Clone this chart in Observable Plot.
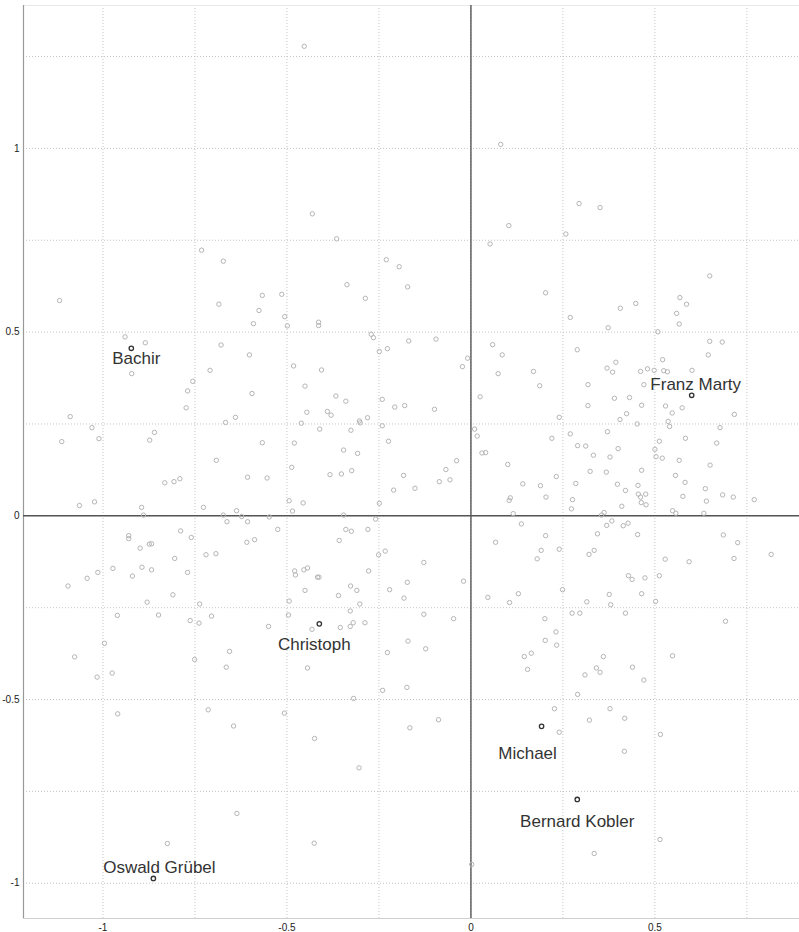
<!DOCTYPE html>
<html><head><meta charset="utf-8">
<script src="https://cdn.jsdelivr.net/npm/d3@7"></script>
<script src="https://cdn.jsdelivr.net/npm/@observablehq/plot@0.6"></script>
<style>body{margin:0;background:#fff}</style>
</head><body><div id="chart"></div>
<script>
// individual coordinates (dimension 1, dimension 2)
const individuals = [
[-0.453,1.278],[0.081,1.011],[-0.431,0.822],[-0.365,0.754],[0.103,0.790],
[0.294,0.850],[0.351,0.839],[0.258,0.767],
[-0.732,0.723],[-0.673,0.693],[-1.118,0.586],[-0.685,0.576],[-0.567,0.600],[-0.576,0.559],[-0.591,0.523],
[-0.940,0.487],[-0.885,0.471],[-0.679,0.465],[-0.602,0.438],[-0.922,0.387],[-0.709,0.396],[-0.756,0.366],
[-0.770,0.340],[-0.595,0.333],[-0.774,0.294],[-1.089,0.270],[-0.640,0.268],[-0.667,0.254],[-1.030,0.240],
[-1.011,0.210],[-1.112,0.202],[-0.860,0.227],[-0.873,0.206],[-0.567,0.199],[-0.692,0.151],
[0.052,0.740],[-0.230,0.697],[-0.195,0.678],[-0.172,0.623],[-0.337,0.629],[-0.514,0.603],[-0.287,0.592],
[-0.506,0.542],[-0.499,0.517],[-0.414,0.527],[-0.414,0.518],[-0.271,0.494],[-0.265,0.485],[-0.169,0.476],
[-0.095,0.481],[-0.227,0.455],[-0.249,0.447],[0.059,0.466],[0.085,0.438],[-0.009,0.429],[-0.023,0.406],
[-0.482,0.408],[-0.406,0.397],[0.074,0.387],[0.170,0.393],[-0.451,0.353],[0.025,0.324],[-0.367,0.326],
[-0.340,0.312],[-0.241,0.317],[-0.207,0.296],[-0.180,0.300],[-0.099,0.290],[-0.446,0.282],[-0.390,0.284],
[-0.380,0.274],[-0.281,0.267],[-0.303,0.258],[-0.301,0.253],[-0.461,0.252],[-0.411,0.236],[-0.326,0.233],
[-0.241,0.245],[-0.224,0.203],[-0.480,0.198],[0.010,0.236],[0.017,0.217],[0.030,0.171],[0.040,0.172],
[-0.346,0.179],[-0.308,0.170],[-0.039,0.150],[-0.068,0.126],[0.100,0.140],[-0.487,0.132],[-0.324,0.123],
[0.649,0.653],[0.203,0.607],[0.568,0.594],[0.586,0.576],[0.406,0.565],[0.448,0.578],[0.270,0.540],
[0.559,0.551],[0.566,0.522],[0.373,0.512],[0.508,0.501],[0.649,0.475],[0.683,0.473],[0.289,0.452],
[0.645,0.438],[0.394,0.418],[0.521,0.425],[0.370,0.402],[0.385,0.391],[0.461,0.393],[0.480,0.400],
[0.498,0.396],[0.524,0.395],[0.534,0.392],[0.601,0.396],[0.187,0.354],[0.318,0.357],[0.470,0.357],
[0.390,0.320],[0.431,0.322],[0.318,0.300],[0.464,0.301],[0.529,0.299],[0.574,0.294],[0.547,0.280],
[0.716,0.276],[0.423,0.278],[0.405,0.262],[0.240,0.268],[0.536,0.257],[0.540,0.243],[0.452,0.250],
[0.677,0.240],[0.220,0.211],[0.270,0.223],[0.371,0.229],[0.583,0.211],[0.512,0.203],[0.668,0.198],
[0.290,0.191],[0.312,0.190],[0.400,0.183],[0.500,0.181],[0.333,0.165],[0.378,0.160],[0.503,0.161],
[0.520,0.157],[0.566,0.151],[0.650,0.138],[0.324,0.121],[0.368,0.119],[0.464,0.124],
[-0.832,0.090],[-0.807,0.093],[-0.791,0.101],[-0.607,0.105],[-0.554,0.103],[-1.064,0.028],[-1.023,0.038],
[-0.895,0.023],[-0.890,0.002],[-0.727,0.023],[-0.673,0.002],[-0.637,0.014],[-0.663,-0.016],[-0.623,-0.002],
[-0.607,-0.016],[-0.548,-0.003],[-0.930,-0.054],[-0.930,-0.062],[-0.789,-0.041],[-0.760,-0.059],
[-0.899,-0.088],[-0.874,-0.077],[-0.868,-0.076],[-0.609,-0.072],[-0.588,-0.065],[-0.805,-0.116],
[-0.720,-0.106],[-0.693,-0.103],[-0.973,-0.143],[-1.014,-0.154],[-1.043,-0.170],[-1.095,-0.191],
[-0.894,-0.140],[-0.868,-0.147],[-0.920,-0.164],[-0.770,-0.154],[-0.810,-0.215],[-0.880,-0.235],
[-0.737,-0.240],[-0.961,-0.271],[-0.849,-0.270],[-0.705,-0.273],[-0.763,-0.285],[-0.739,-0.292],
[-0.550,-0.301],[-0.996,-0.347],[-1.077,-0.384],[-0.656,-0.369],[-0.751,-0.391],[-0.665,-0.412],
[-1.016,-0.439],[-0.975,-0.428],[-0.714,-0.528],
[-0.383,0.112],[-0.352,0.114],[-0.183,0.110],[-0.210,0.070],[-0.152,0.075],[-0.086,0.093],[-0.057,0.098],
[-0.494,0.041],[-0.456,0.035],[-0.485,0.013],[-0.249,0.034],[-0.346,0.002],[-0.259,-0.009],[-0.525,-0.037],
[-0.340,-0.037],[-0.325,-0.042],[-0.280,-0.037],[-0.358,-0.067],[-0.251,-0.106],[-0.233,-0.096],
[-0.128,-0.127],[-0.479,-0.150],[-0.477,-0.161],[-0.454,-0.147],[-0.444,-0.142],[-0.417,-0.167],
[-0.413,-0.167],[-0.278,-0.150],[-0.020,-0.178],[-0.173,-0.181],[-0.221,-0.201],[-0.451,-0.203],
[-0.327,-0.191],[-0.310,-0.203],[-0.360,-0.217],[-0.182,-0.224],[-0.302,-0.240],[-0.494,-0.232],
[-0.328,-0.259],[-0.496,-0.270],[-0.128,-0.268],[-0.047,-0.280],[-0.432,-0.309],[-0.355,-0.304],
[-0.328,-0.301],[-0.320,-0.291],[-0.288,-0.291],[-0.171,-0.341],[-0.123,-0.362],[-0.227,-0.372],
[-0.444,-0.414],[-0.240,-0.475],[-0.174,-0.467],[-0.319,-0.497],
[0.141,0.087],[0.107,0.049],[0.104,0.042],[0.115,0.006],[0.137,-0.022],[0.067,-0.072],[0.046,-0.222],
[0.105,-0.236],[0.129,-0.212],[0.145,-0.383],[0.164,-0.374],[0.154,-0.418],
[0.232,0.107],[0.556,0.110],[0.189,0.082],[0.204,0.051],[0.285,0.088],[0.276,0.044],[0.273,0.019],
[0.398,0.086],[0.420,0.069],[0.454,0.083],[0.455,0.059],[0.461,0.051],[0.475,0.059],[0.463,0.036],
[0.476,0.030],[0.410,0.026],[0.362,0.009],[0.355,0.002],[0.582,0.091],[0.576,0.053],[0.637,0.074],
[0.640,0.040],[0.684,0.057],[0.713,0.051],[0.770,0.044],[0.548,0.014],[0.557,0.007],[0.633,0.007],
[0.383,-0.014],[0.369,-0.026],[0.414,-0.027],[0.427,-0.020],[0.344,-0.049],[0.453,-0.051],[0.203,-0.054],
[0.686,-0.052],[0.725,-0.073],[0.191,-0.094],[0.240,-0.091],[0.180,-0.117],[0.335,-0.094],[0.321,-0.105],
[0.528,-0.118],[0.593,-0.125],[0.715,-0.116],[0.816,-0.105],[0.428,-0.163],[0.438,-0.173],[0.473,-0.169],
[0.512,-0.163],[0.249,-0.201],[0.376,-0.214],[0.464,-0.212],[0.315,-0.234],[0.380,-0.242],[0.502,-0.233],
[0.275,-0.265],[0.296,-0.265],[0.420,-0.265],[0.201,-0.280],[0.692,-0.287],[0.231,-0.316],[0.202,-0.339],
[0.233,-0.352],[0.360,-0.383],[0.548,-0.381],[0.341,-0.414],[0.351,-0.426],[0.310,-0.433],[0.439,-0.412],
[0.470,-0.447],[0.290,-0.486],[0.227,-0.525],[0.378,-0.525],
[-0.960,-0.539],[-0.645,-0.572],[-0.636,-0.810],[-0.825,-0.892],
[-0.507,-0.537],[-0.425,-0.606],[-0.304,-0.686],[-0.166,-0.577],[-0.088,-0.555],[-0.426,-0.891],[0.002,-0.949],
[0.240,-0.589],[0.322,-0.556],[0.418,-0.551],[0.515,-0.595],[0.417,-0.641],[0.514,-0.881],[0.335,-0.919]
];

// highlighted individuals
const labelNames = ["Bachir", "Franz Marty", "Christoph", "Oswald Grübel", "Michael", "Bernard Kobler"];
const labelX = [-0.923, 0.600, -0.412, -0.863, 0.192, 0.289];
const labelY = [0.456, 0.328, -0.294, -0.987, -0.573, -0.772];
// label offsets in pixels (placement only)
const labelOffsets = [[5, 10], [4, -11], [-5, 21], [6, -11], [-14, 27], [0, 22]];

// axes
const xTicks = [-1, -0.5, 0, 0.5];
const yTicks = [-1, -0.5, 0, 0.5, 1];
const gridXTicks = [-1, -0.75, -0.5, -0.25, 0, 0.25, 0.5, 0.75];
const gridYTicks = [-1, -0.75, -0.5, -0.25, 0, 0.25, 0.5, 0.75, 1, 1.25];
const xDomain = [-1.216, 0.893];
const yDomain = [-1.096, 1.389];

const labeled = labelNames.map((name, i) => ({name, x: labelX[i], y: labelY[i], dx: labelOffsets[i][0], dy: labelOffsets[i][1]}));
const fmt = d => String(d);

const chart = Plot.plot({
  width: 799,
  height: 932,
  marginLeft: 23,
  marginRight: 0,
  marginTop: 5,
  marginBottom: 14,
  style: {fontFamily: "'Liberation Sans', Arial, Helvetica, sans-serif", background: "#fff", overflow: "visible"},
  x: {domain: xDomain, label: null},
  y: {domain: yDomain, label: null},
  marks: [
    Plot.gridX(gridXTicks, {stroke: "#c4c4c4", strokeOpacity: 1, strokeDasharray: "1,2"}),
    Plot.gridY(gridYTicks, {stroke: "#c4c4c4", strokeOpacity: 1, strokeDasharray: "1,2"}),
    Plot.ruleY([yDomain[1]], {stroke: "#e8e8e8"}),
    Plot.ruleY([yDomain[0]], {stroke: "#cfcfcf", strokeWidth: 1.2}),
    Plot.ruleX([xDomain[0]], {stroke: "#999", strokeWidth: 1.2}),
    Plot.ruleX([0], {stroke: "#555", strokeWidth: 1.4}),
    Plot.ruleY([0], {stroke: "#555", strokeWidth: 1.4}),
    Plot.axisX(xTicks, {tickSize: 0, tickPadding: 5, tickFormat: fmt, fontSize: 10, fill: "#222", label: null}),
    Plot.axisY(yTicks, {tickSize: 0, tickPadding: 4, tickFormat: fmt, fontSize: 10, fill: "#222", label: null}),
    Plot.dot(individuals, {x: d => d[0], y: d => d[1], r: 2.2, stroke: "#b5b5b5", strokeWidth: 1}),
    Plot.dot(labeled, {x: "x", y: "y", r: 2.2, stroke: "#333", strokeWidth: 1.3}),
    ...labeled.map(d => Plot.text([d], {x: "x", y: "y", text: "name", dx: d.dx, dy: d.dy, fontSize: 17, fill: "#333"}))
  ]
});
document.getElementById("chart").append(chart);
</script>
</body></html>
